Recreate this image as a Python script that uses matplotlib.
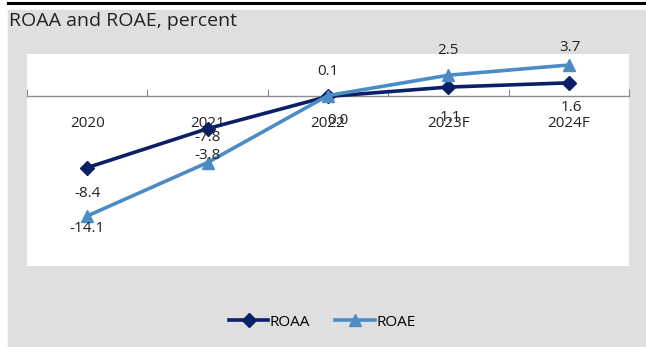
import matplotlib.pyplot as plt
from matplotlib.patches import Rectangle
from matplotlib.lines import Line2D

years = ["2020", "2021", "2022", "2023F", "2024F"]
roaa = [-8.4, -3.8, 0.0, 1.1, 1.6]
roae = [-14.1, -7.8, 0.1, 2.5, 3.7]

# label offsets in pixels (x, y)
roaa_off = [(0, -26), (0, -27), (10, -24), (2, -30), (3, -25)]
roae_off = [(0, -13), (0, 25), (0, 24), (0, 25), (1, 18)]

dark = "#0b1f66"
light = "#4b8cc6"
bg = "#dfdfdf"

plt.rcParams["font.family"] = ["Open Sans", "DejaVu Sans"]

fig = plt.figure(figsize=(6.46, 3.47), dpi=100)
W, H = 646, 347

# grey panel and top rule
fig.patches.append(Rectangle((8 / W, 0), 1 - 8 / W, 1 - 10 / H,
                             transform=fig.transFigure, color=bg, zorder=-5))
fig.lines.append(Line2D([8 / W, 1], [1 - 3 / H, 1 - 3 / H],
                        transform=fig.transFigure, color="black", lw=2.2))
fig.text(9 / W, 1 - 21 / H, "ROAA and ROAE, percent", fontsize=14,
         color="#222222", va="center", ha="left")

ax = fig.add_axes([27 / W, 1 - 266 / H, (629 - 27) / W, (266 - 54) / H])
ax.set_facecolor("white")
x = range(len(years))

ax.plot(x, roaa, color=dark, lw=2.6, marker="D", ms=7, label="ROAA", zorder=3)
ax.plot(x, roae, color=light, lw=2.6, marker="^", ms=9, label="ROAE", zorder=3)

for i, v in enumerate(roaa):
    ax.annotate(f"{v:.1f}", (i, v), xytext=roaa_off[i], textcoords="offset pixels",
                ha="center", va="center", fontsize=11, color="#222222")
for i, v in enumerate(roae):
    ax.annotate(f"{v:.1f}", (i, v), xytext=roae_off[i], textcoords="offset pixels",
                ha="center", va="center", fontsize=11, color="#222222")

ax.set_xlim(-0.5, 4.5)
ax.set_ylim(-20, 5)

for s in ["top", "right", "left"]:
    ax.spines[s].set_visible(False)
ax.spines["bottom"].set_position(("data", 0))
ax.spines["bottom"].set_color("#8c8c8c")
ax.spines["bottom"].set_linewidth(1)
ax.set_yticks([])

ax.set_xticks([i - 0.5 for i in range(len(years) + 1)])
ax.set_xticklabels([])
ax.tick_params(axis="x", which="major", direction="in", length=5, color="#8c8c8c")
ax.set_xticks(list(x), minor=True)
ax.set_xticklabels(years, minor=True)
ax.tick_params(axis="x", which="minor", length=0, pad=14, labelsize=11,
               labelcolor="#222222")

fig.legend(loc="center", bbox_to_anchor=(322 / W, 1 - 322 / H), ncol=2,
           frameon=False, fontsize=11, handlelength=2.6, handletextpad=0.1,
           columnspacing=1.6)

fig.savefig("out.png", dpi=100)
